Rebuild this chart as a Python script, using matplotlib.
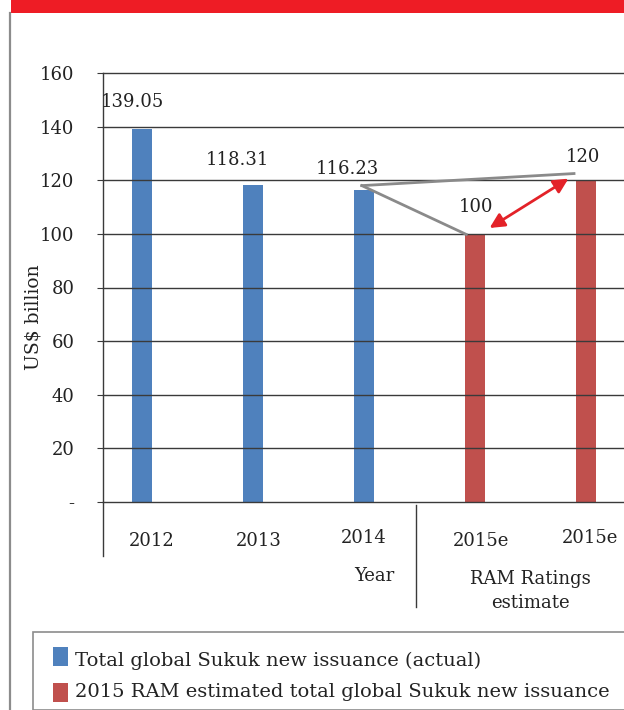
import matplotlib
matplotlib.use("Agg")
import matplotlib.pyplot as plt
from matplotlib.patches import Rectangle, FancyArrowPatch
from matplotlib.lines import Line2D

categories = ["2012", "2013", "2014", "2015e", "2015e"]
actual_values = [139.05, 118.31, 116.23]
estimate_values = [100, 120]
value_labels = ["139.05", "118.31", "116.23", "100", "120"]
yticks = [0, 20, 40, 60, 80, 100, 120, 140, 160]
ytick_labels = ["-", "20", "40", "60", "80", "100", "120", "140", "160"]
legend_labels = ["Total global Sukuk new issuance (actual)",
                 "2015 RAM estimated total global Sukuk new issuance"]

BLUE = "#4F81BD"
RED = "#C0504D"
TXT = "#222222"
GRID = "#3a3a3a"
FONT = "DejaVu Serif"
plt.rcParams["font.family"] = [FONT]

W, H = 624, 710
fig = plt.figure(figsize=(W / 100, H / 100), dpi=100)

def fx(px):
    return px / W

def fy(py):
    return 1 - py / H

# red banner and left border
fig.patches.append(Rectangle((fx(11), fy(13)), 1 - fx(11), 13 / H, transform=fig.transFigure,
                             facecolor="#EE1C25", edgecolor="none", zorder=0))
fig.lines.append(Line2D([fx(10), fx(10)], [fy(13), 0], transform=fig.transFigure,
                        color="#8c8c8c", lw=1.6))

ax = fig.add_axes([fx(103), fy(502), 1 - fx(103), (502 - 73) / H])
ax.set_ylim(0, 160)
ax.set_xlim(-0.35, 4.34)

xs_actual = list(range(len(actual_values)))
xs_est = [len(actual_values) + i for i in range(len(estimate_values))]
ax.bar(xs_actual, actual_values, width=0.18, color=BLUE, zorder=1)
ax.bar(xs_est, estimate_values, width=0.18, color=RED, zorder=1)

for y in yticks:
    ax.axhline(y, color=GRID, lw=1.0, zorder=2, clip_on=False)

for s in ["top", "right", "bottom"]:
    ax.spines[s].set_visible(False)
ax.spines["left"].set_color(GRID)
ax.spines["left"].set_linewidth(1.0)

ax.set_yticks(yticks)
ax.set_yticklabels(ytick_labels, fontsize=13, color=TXT)
ax.tick_params(axis="y", length=4.5, color=GRID, pad=16)
ax.set_xticks([])

# x category labels
xs_all = xs_actual + xs_est
label_dx = [0.09, 0.055, 0.0, 0.05, 0.03]
label_y = [-0.090, -0.090, -0.084, -0.090, -0.083]
for x, lab, dx, yy in zip(xs_all, categories, label_dx, label_y):
    ax.text(x + dx, yy, lab, transform=ax.get_xaxis_transform(), ha="center", va="center",
            fontsize=13, color=TXT)

# left spine extension and divider
ax.plot([-0.35, -0.35], [0, -0.126], transform=ax.get_xaxis_transform(), color=GRID,
        lw=1.0, clip_on=False)
ax.plot([2.47, 2.47], [-0.007, -0.245], transform=ax.get_xaxis_transform(), color=GRID,
        lw=1.0, clip_on=False)

ax.text(2.095, -0.172, "Year", transform=ax.get_xaxis_transform(), ha="center", va="center",
        fontsize=13, color=TXT)
ax.text(3.5, -0.207, "RAM Ratings\nestimate", transform=ax.get_xaxis_transform(),
        ha="center", va="center", fontsize=13, color=TXT, linespacing=1.4)

ax.set_ylabel("US$ billion", fontsize=13.5, color=TXT)
ax.yaxis.set_label_coords(-0.117, 0.43)

# value labels
values_all = actual_values + estimate_values
offsets = [(-0.09, 10.2), (-0.144, 9.3), (-0.15, 8.0), (0.01, 10.0), (-0.03, 8.7)]
for x, v, lab, (dx, dy) in zip(xs_all, values_all, value_labels, offsets):
    ax.text(x + dx, v + dy, lab, ha="center", va="center", fontsize=13, color=TXT)

# annotation lines
ax.plot([1.98, 3.89], [118.0, 122.5], color="#8a8a8a", lw=2.0, zorder=3, clip_on=False)
ax.plot([1.98, 2.92], [118.0, 99.8], color="#8a8a8a", lw=2.0, zorder=3, clip_on=False)
arrow = FancyArrowPatch((3.13, 102.2), (3.84, 120.6), arrowstyle="<|-|>", mutation_scale=22,
                        color="#E32228", lw=2.0, zorder=4, shrinkA=0, shrinkB=0)
ax.add_patch(arrow)

# legend box
fig.patches.append(Rectangle((fx(33), 0), 1.2, (710 - 632) / H, transform=fig.transFigure,
                             facecolor="white", edgecolor="#8c8c8c", lw=1.2, zorder=1))
for i, (lab, col) in enumerate(zip(legend_labels, [BLUE, RED])):
    top = 647 + i * 36
    fig.patches.append(Rectangle((fx(53), fy(top + 19)), 15 / W, 19 / H,
                                 transform=fig.transFigure,
                                 facecolor=col, edgecolor="none", zorder=2))
    fig.text(fx(75), fy(661 + i * 31), lab, ha="left", va="center", fontsize=14, color=TXT)

fig.savefig("out.png", dpi=100)
